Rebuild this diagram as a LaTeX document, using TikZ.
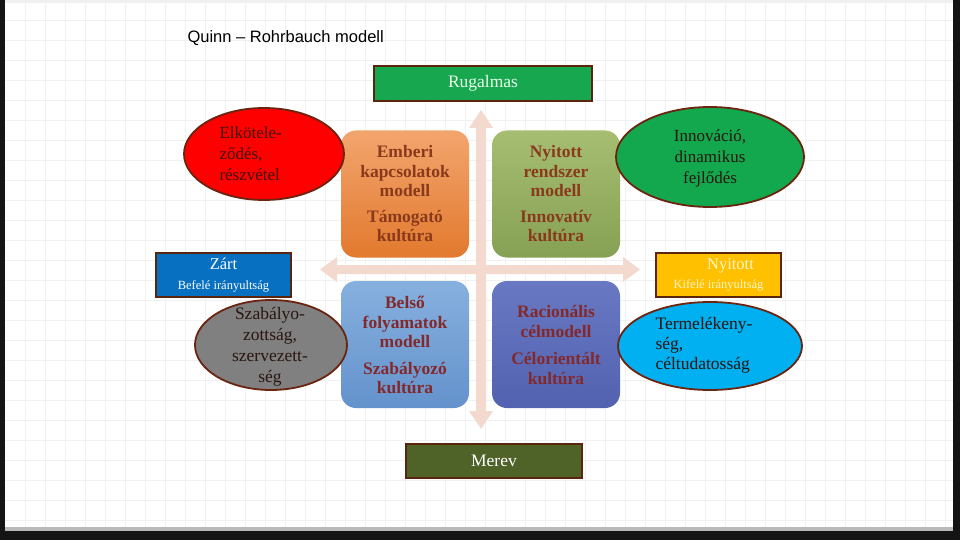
\documentclass[tikz,border=0pt]{standalone}
\usepackage{fontspec}
\setmainfont{Liberation Serif}
\newfontfamily\arialf{Liberation Sans}
\usetikzlibrary{shapes.geometric}
\definecolor{framedark}{HTML}{141414}
\definecolor{gridc}{HTML}{F1F1F1}
\definecolor{boxbrd}{HTML}{5A250C}
\definecolor{arrowc}{HTML}{F4D9CF}
\definecolor{qtext}{HTML}{8A3A1C}
\definecolor{qtextb}{HTML}{83292B}
\definecolor{ellbrd}{HTML}{6A2410}
\definecolor{rugc}{HTML}{17A84F}
\definecolor{zartc}{HTML}{0870C0}
\definecolor{nyitc}{HTML}{FFC000}
\definecolor{merevc}{HTML}{4F6228}
\definecolor{redc}{HTML}{FF0000}
\definecolor{greenell}{HTML}{13A84E}
\definecolor{grayell}{HTML}{808080}
\definecolor{blueell}{HTML}{00B0F0}
\definecolor{darktext}{HTML}{2A1510}
\definecolor{orangetop}{HTML}{F3A56E}
\definecolor{orangebot}{HTML}{E2792E}
\tikzset{
  labelbox/.style={draw=boxbrd, line width=2.5pt, inner sep=0pt, align=center},
  quad/.style={rounded corners=15pt, minimum width=128pt, minimum height=127pt, inner sep=0pt},
  quadtext/.style={align=center, font=\fontsize{17.5}{19.5}\selectfont\bfseries, text=qtext},
  ell/.style={ellipse, draw=ellbrd, line width=1.8pt, inner sep=0pt},
  elltext/.style={font=\fontsize{17}{21}\selectfont, text=darktext},
}
\begin{document}
\begin{tikzpicture}[x=1pt,y=-1pt]
\useasboundingbox (0,0) rectangle (960,540);
% frame and background
\fill[framedark] (0,0) rectangle (960,540);
\fill[gray!55] (5,0) rectangle (953,531);
\fill[white] (5,0) rectangle (953,527);
\fill[gray!12] (5,0) rectangle (953,3);
\foreach \gx in {25,45,...,945} \draw[gridc, line width=0.6pt] (\gx,3) -- (\gx,527);
\foreach \gy in {20,40,...,520} \draw[gridc, line width=0.6pt] (5,\gy) -- (953,\gy);

% title
\node[font=\arialf\fontsize{16.5}{19}\selectfont, anchor=west] (title) at (184,38) {Quinn – Rohrbauch modell};

% axes arrows
\coordinate (hl) at (320,269.5);
\coordinate (hr) at (640,269.5);
\coordinate (vt) at (481,110);
\coordinate (vb) at (481,429);
\fill[arrowc] (hl) -- (337,257) -- (337,265) -- (623,265) -- (623,257) -- (hr) -- (623,282) -- (623,274) -- (337,274) -- (337,282) -- cycle;
\fill[arrowc] (vt) -- (493,128) -- (486,128) -- (486,411) -- (493,411) -- (vb) -- (469,411) -- (476,411) -- (476,128) -- (469,128) -- cycle;

% quadrant boxes
\node[quad, top color=orangetop, bottom color=orangebot] (tl) at (405,194) {};
\node[quadtext] (tltext) at (405,194) {Emberi\\kapcsolatok\\modell\\[6pt]Támogató\\kultúra};
\node[quad, top color={rgb,255:red,166;green,190;blue,114}, bottom color={rgb,255:red,134;green,160;blue,84}] (tr) at (556,194) {};
\node[quadtext] (trtext) at (556,194) {Nyitott\\rendszer\\modell\\[6pt]Innovatív\\kultúra};
\node[quad, top color={rgb,255:red,134;green,176;blue,222}, bottom color={rgb,255:red,100;green,146;blue,204}] (bl) at (405,344.5) {};
\node[quadtext, text=qtextb] (bltext) at (405,345) {Belső\\folyamatok\\modell\\[7pt]Szabályozó\\kultúra};
\node[quad, top color={rgb,255:red,104;green,120;blue,194}, bottom color={rgb,255:red,82;green,98;blue,176}] (br) at (556,344.5) {};
\node[quadtext, text=qtextb] (brtext) at (556,345) {Racionális\\célmodell\\[8pt]Célorientált\\kultúra};

% label boxes
\node[labelbox, fill=rugc, minimum width=218pt, minimum height=35pt, text=white!92!green, font=\fontsize{17.5}{19}\selectfont] (rug) at (483,83.5) {Rugalmas};
\node[labelbox, fill=zartc, minimum width=135pt, minimum height=44pt, text=white, font=\fontsize{12.5}{20}\selectfont] (zart) at (223.5,275) {{\fontsize{16.5}{20}\selectfont Zárt}\\{\fontsize{12.5}{20}\selectfont Befelé irányultság}};
\node[labelbox, fill=nyitc, minimum width=125pt, minimum height=44pt, text={rgb,255:red,255;green,246;blue,200}, font=\fontsize{12.5}{19}\selectfont] (nyit) at (718.5,275) {{\fontsize{16.5}{19}\selectfont\hspace*{24pt}Nyitott}\\{\fontsize{12.5}{19}\selectfont Kifelé irányultság}};
\node[labelbox, fill=merevc, minimum width=176pt, minimum height=34pt, text=white, font=\fontsize{17.5}{19}\selectfont] (merev) at (494,461) {Merev};

% ellipses
\node[ell, fill=redc, minimum width=160pt, minimum height=92pt] (ered) at (264,154) {};
\node[elltext, align=left, anchor=west, text={rgb,255:red,60;green,20;blue,10}] (eredt) at (216,154) {Elkötele-\\ződés,\\részvétel};
\node[ell, fill=greenell, minimum width=188pt, minimum height=100pt] (egreen) at (710,157) {};
\node[elltext, align=center] (egreent) at (710,158) {Innováció,\\dinamikus\\fejlődés};
\node[ell, fill=grayell, minimum width=152pt, minimum height=90pt] (egray) at (271,345) {};
\node[elltext, align=center, font=\fontsize{17.5}{21}\selectfont] (egrayt) at (270,346.5) {Szabályo-\\zottság,\\szervezett-\\ség};
\node[ell, fill=blueell, minimum width=184pt, minimum height=88pt] (eblue) at (710,346) {};
\node[elltext, align=left, anchor=west, font=\fontsize{17.5}{20}\selectfont] (ebluet) at (652,345) {Termelékeny-\\ség,\\céltudatosság};
\end{tikzpicture}
\end{document}
